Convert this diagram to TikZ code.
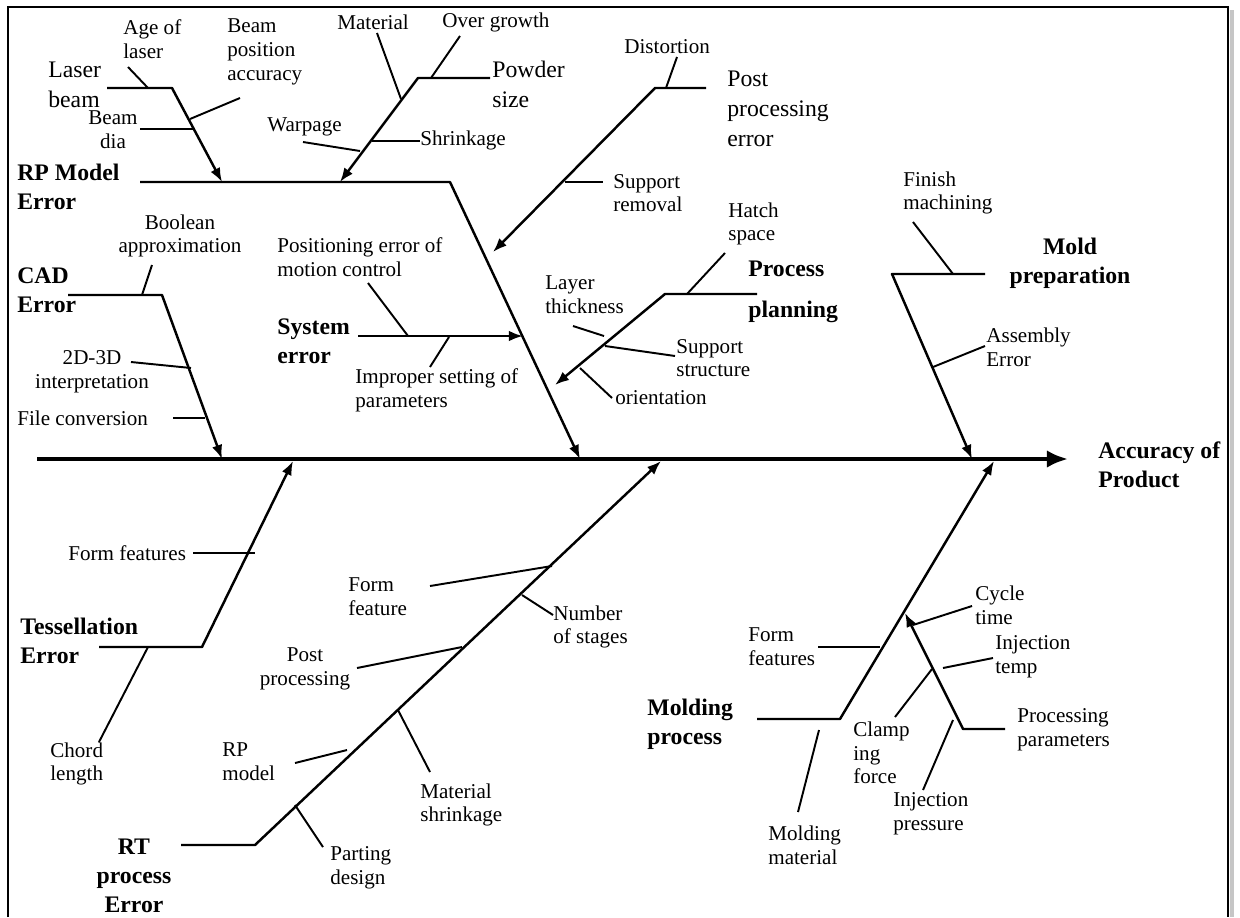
\documentclass[tikz,border=0pt]{standalone}
\usepackage{fontspec}
\setmainfont{Liberation Serif}
\usetikzlibrary{arrows.meta}

\begin{document}
\begin{tikzpicture}[
  x=0.02cm, y=-0.02cm,
  note/.style={inner sep=0pt, align=left, anchor=west, font=\fontsize{12}{13.5}\selectfont},
  midnote/.style={note, font=\fontsize{13.5}{17}\selectfont},
  cause/.style={note, font=\fontsize{13.5}{16.5}\selectfont\bfseries},
  bone/.style={line width=1.4pt, line join=round, -{Latex[length=8pt,width=6pt]}},
  tick/.style={line width=1.1pt},
  spine/.style={line width=2.4pt, -{Latex[length=12pt,width=10pt]}},
]
\useasboundingbox (0,0) rectangle (1240,917);

% Frame
\draw[gray!45, line width=2.5pt] (1232,10) -- (1232,917);
\draw[line width=1.4pt] (8,917) -- (8,7) -- (1228,7) -- (1228,917);

% Bone points
\foreach \n/\x/\y in {sp1/37/459, sp2/1068/459,
    rp1/140/182, rp2/450/182, rp3/580/459,
    lb1/107/88, lb2/172/88, lb3/222/182,
    pw1/490/78, pw2/418/78, pw3/340/182,
    pp1/706/88, pp2/655/88, pp3/493/252,
    sy1/358/336, sy2/523/336,
    cd1/68/295, cd2/162/295, cd3/222/459,
    pl1/757/294, pl2/665/294, pl3/555/385,
    mp1/985/274, mp2/892/274, mp3/972/459,
    ts1/99/647, ts2/202/647, ts3/293/461,
    rt1/181/845, rt2/255/845, rt3/661/461,
    md1/757/719, md2/840/719, md3/994/461,
    pr1/1005/729, pr2/963/729, pr3/905/613}
  \coordinate (\n) at (\x,\y);

% Spine and bones
\draw[spine] (sp1) -- (sp2);
\draw[bone] (rp1) -- (rp2) -- (rp3);
\draw[bone] (lb1) -- (lb2) -- (lb3);
\draw[bone] (pw1) -- (pw2) -- (pw3);
\draw[bone] (pp1) -- (pp2) -- (pp3);
\draw[bone] (sy1) -- (sy2);
\draw[bone] (cd1) -- (cd2) -- (cd3);
\draw[bone] (pl1) -- (pl2) -- (pl3);
\draw[bone] (mp1) -- (mp2) -- (mp3);
\draw[bone] (ts1) -- (ts2) -- (ts3);
\draw[bone] (rt1) -- (rt2) -- (rt3);
\draw[bone] (md1) -- (md2) -- (md3);
\draw[bone] (pr1) -- (pr2) -- (pr3);

% Small causes
\foreach \n/\xa/\ya/\xb/\yb in {age/128/67/148/88, bpa/240/98/190/119,
    bdi/140/129/194/129, mat/377/33/401/99, ovg/460/36/431/78,
    wrp/303/142/360/151, shr/372/141/420/141, dst/677/57/666/88,
    sup/565/182/603/182, bln/152/265/142/295, tdd/131/362/191/368,
    fcv/173/418/205/418, pos/368/283/408/336, imp/449/337/430/367,
    htc/725/253/687/294, lyr/573/326/604/336, sst/605/346/675/356,
    ori/580/368/612/398, fin/913/222/953/274, asm/985/346/933/367,
    fft/193/553/255/553, chd/148/647/99/742, ffr/430/586/552/566,
    nos/522/595/553/615, ppr/357/668/462/647, rpm/295/763/347/750,
    msh/398/710/430/772, prt/295/805/323/847, ffm/818/647/880/647,
    mmt/819/730/798/812, cyc/913/625/972/606, itp/943/668/993/658,
    clp/932/669/895/717, ipr/953/720/923/790}{
  \coordinate (\n-s) at (\xa,\ya);
  \coordinate (\n-e) at (\xb,\yb);
  \draw[tick] (\n-s) -- (\n-e);
}

% Main causes
\node[cause] (rpmodel) at (17,187) {RP Model\\Error};
\node[cause] (cad) at (17,290) {CAD\\Error};
\node[cause] (system) at (277,341) {System\\error};
\node[cause] (planning) at (748,292) {Process\\[7pt]planning};
\node[cause, align=center, anchor=center] (moldprep) at (1070,263) {Mold\\preparation};
\node[cause] (accuracy) at (1098,465) {Accuracy of\\Product};
\node[cause] (tess) at (20,641) {Tessellation\\Error};
\node[cause, align=center, anchor=center] (rtproc) at (134,876) {RT\\process\\Error};
\node[cause] (molding) at (647,724) {Molding\\process};

% Sub causes
\node[midnote] (laser) at (48,85) {Laser\\beam};
\node[midnote] (powder) at (492,84) {Powder\\size};
\node[midnote] (postproc) at (727,109) {Post\\processing\\error};

% Labels
\node[note] (agelbl) at (123,39) {Age of\\laser};
\node[note] (bpalbl) at (227,52) {Beam\\position\\accuracy};
\node[note, align=center, anchor=center] (bdilbl) at (113,130) {Beam\\dia};
\node[note] (matlbl) at (337,22) {Material};
\node[note] (ovglbl) at (442,22) {Over growth};
\node[note] (wrplbl) at (267,127) {Warpage};
\node[note] (shrlbl) at (420,140) {Shrinkage};
\node[note] (dstlbl) at (624,47) {Distortion};
\node[note] (suplbl) at (613,193) {Support\\removal};
\node[note, align=center, anchor=center] (blnlbl) at (180,236) {Boolean\\approximation};
\node[note, align=center, anchor=center] (tddlbl) at (92,372) {2D-3D\\interpretation};
\node[note] (fcvlbl) at (17,418) {File conversion};
\node[note] (poslbl) at (277,257) {Positioning error of\\motion control};
\node[note] (implbl) at (355,390) {Improper setting of\\parameters};
\node[note] (lyrlbl) at (545,295) {Layer\\thickness};
\node[note] (htclbl) at (728,224) {Hatch\\space};
\node[note] (sstlbl) at (676,358) {Support\\structure};
\node[note] (orilbl) at (615,398) {orientation};
\node[note] (finlbl) at (903,193) {Finish\\machining};
\node[note] (asmlbl) at (986,347) {Assembly\\Error};
\node[note] (fftlbl) at (68,553) {Form features};
\node[note] (chdlbl) at (50,764) {Chord\\length};
\node[note] (rpmlbl) at (222,762) {RP\\model};
\node[note] (prtlbl) at (330,868) {Parting\\design};
\node[note, align=center, anchor=center] (pprlbl) at (305,669) {Post\\processing};
\node[note] (ffrlbl) at (348,597) {Form\\feature};
\node[note] (mshlbl) at (420,805) {Material\\shrinkage};
\node[note] (noslbl) at (553,627) {Number\\of stages};
\node[note] (ffmlbl) at (748,647) {Form\\features};
\node[note] (mmtlbl) at (768,845) {Molding\\material};
\node[note] (cyclbl) at (975,605) {Cycle\\time};
\node[note] (itplbl) at (995,657) {Injection\\temp};
\node[note] (clplbl) at (853,753) {Clamp\\ing\\force};
\node[note] (prplbl) at (1017,730) {Processing\\parameters};
\node[note] (iprlbl) at (893,814) {Injection\\pressure};

\end{tikzpicture}
\end{document}
